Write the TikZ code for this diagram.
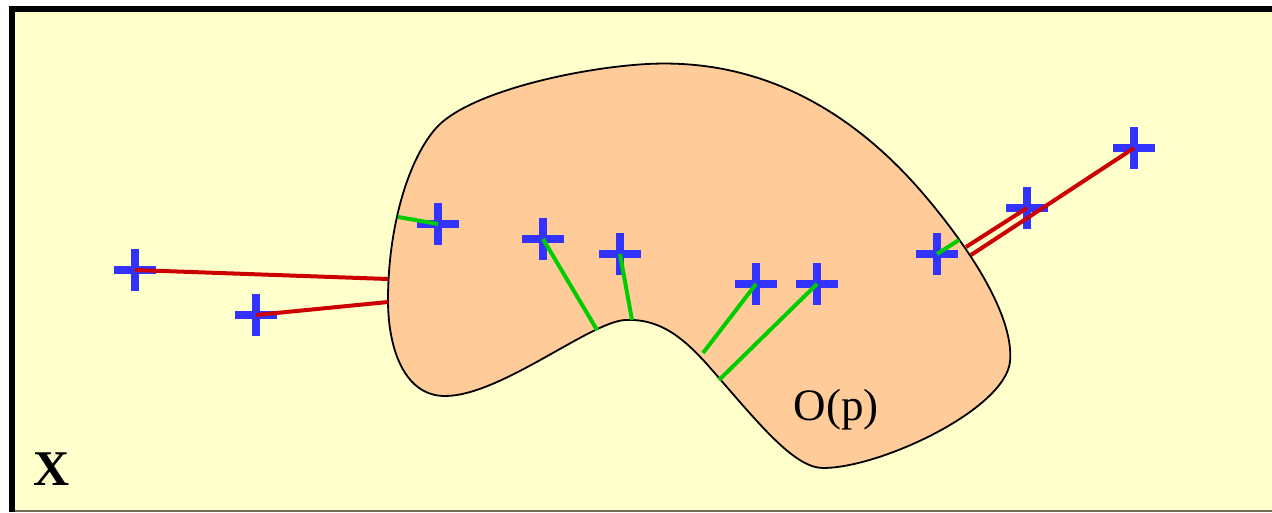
\documentclass[tikz,border=0pt]{standalone}
\usepackage{fontspec}
\setmainfont{Liberation Serif}
\usetikzlibrary{shapes.misc}
\definecolor{bgyellow}{RGB}{255,255,204}
\definecolor{blobfill}{RGB}{255,204,153}
\definecolor{crossblue}{RGB}{51,51,255}
\definecolor{linered}{RGB}{204,0,0}
\definecolor{linegreen}{RGB}{0,204,0}
\definecolor{edgegray}{RGB}{110,110,90}
\tikzset{
  crossmark/.style={cross out, draw=crossblue, line width=8pt, minimum size=21.2pt, inner sep=0pt, rotate=45},
  redline/.style={draw=linered, line width=4pt},
  greenline/.style={draw=linegreen, line width=4pt},
  blob/.style={fill=blobfill, draw=black, line width=1.8pt}
}
\begin{document}
\begin{tikzpicture}[x=1pt,y=-1pt]
\useasboundingbox (0,0) rectangle (1272,512);
\fill[white] (0,0) rectangle (1272,512);
% frame
\fill[bgyellow] (15,12) rectangle (1272,510);
\fill[black] (9,6) rectangle (1272,12);
\fill[black] (9,6) rectangle (15,512);
\draw[edgegray, line width=1.5pt] (15,510.8) -- (1272,510.8);
% region O(p)
\path[blob] (388,300)
  .. controls (388,230) and (407,160) .. (437,127)
  .. controls (470,92) and (577,68) .. (647,64)
  .. controls (760,58) and (850,110) .. (920,190)
  .. controls (960,236) and (1015,312) .. (1010,362)
  .. controls (1004,410) and (880,468) .. (823,468)
  .. controls (795,468) and (760,425) .. (719,378)
  .. controls (690,344) and (665,318) .. (625,320)
  .. controls (590,322) and (500,396) .. (445,396)
  .. controls (405,396) and (388,350) .. (388,300) -- cycle;
\node[font=\fontsize{45}{50}\selectfont, inner sep=0pt] (op) at (836,410) {O(p)};
\node[font=\fontsize{50}{55}\selectfont\bfseries, inner sep=0pt] (xlab) at (52,469) {X};
% points
\node[crossmark] (c1) at (135,270) {};
\node[crossmark] (c2) at (256,315) {};
\node[crossmark] (c3) at (438,224) {};
\node[crossmark] (c4) at (543,239) {};
\node[crossmark] (c5) at (620,254) {};
\node[crossmark] (c6) at (756,284) {};
\node[crossmark] (c7) at (817,284) {};
\node[crossmark] (c8) at (937,254) {};
\node[crossmark] (c9) at (1027,208) {};
\node[crossmark] (c10) at (1134,148) {};
% boundary projection points
\coordinate (b1) at (388,279);
\coordinate (b2) at (388,302);
\coordinate (b3) at (398,217);
\coordinate (b4) at (597,330);
\coordinate (b5) at (632,320);
\coordinate (b6) at (703,353);
\coordinate (b7) at (719,380);
\coordinate (b8) at (959,240);
\coordinate (b9) at (966,247);
\coordinate (b10) at (971,255);
% connectors
\draw[redline] (c1.center) -- (b1);
\draw[redline] (c2.center) -- (b2);
\draw[greenline] (c3.center) -- (b3);
\draw[greenline] (c4.center) -- (b4);
\draw[greenline] (c5.center) -- (b5);
\draw[greenline] (c6.center) -- (b6);
\draw[greenline] (c7.center) -- (b7);
\draw[greenline] (c8.center) -- (b8);
\draw[redline] (c9.center) -- (b9);
\draw[redline] (c10.center) -- (b10);
\end{tikzpicture}
\end{document}
